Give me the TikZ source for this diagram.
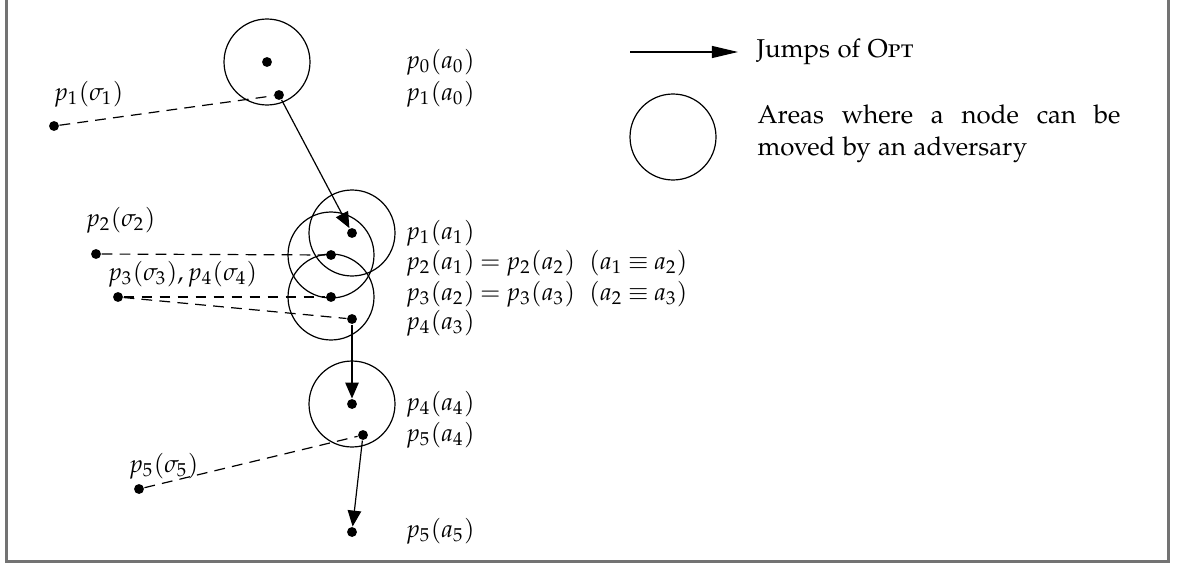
\documentclass[tikz,border=0pt]{standalone}
\usepackage[T1]{fontenc}
\usepackage[sc]{mathpazo}
\usetikzlibrary{arrows.meta}
\newcommand{\labelfont}{\fontsize{8.2}{9.8}\selectfont\thickmuskip=4mu\relax}
\begin{document}
\begin{tikzpicture}[x=0.33333pt,y=-0.33333pt,
  dot/.style={circle,fill=black,inner sep=0pt,minimum size=3.3pt},
  area/.style={draw=black,line width=0.4pt},
  jump/.style={draw=black,line width=0.4pt,-{Triangle[length=5.3pt,width=4.5pt]}},
  jumplegend/.style={draw=black,line width=0.4pt,-{Triangle[length=8.7pt,width=4pt]}},
  dashline/.style={draw=black,line width=0.4pt,dash pattern=on 3.6pt off 2.4pt},
  lbl/.style={anchor=west,inner sep=0pt,font=\labelfont},
  legtext/.style={anchor=west,inner sep=0pt,font=\fontsize{8.6}{10.7}\selectfont},
  frameline/.style={draw=black!55,line width=0.7pt}]
\useasboundingbox (0,0) rectangle (1178,567);
\draw[frameline] (6.5,0) -- (6.5,561.5) -- (1168.5,561.5) -- (1168.5,0);

% dots
\node[dot] (a0) at (267,62) {};
\node[dot] (b0) at (279,95) {};
\node[dot] (s1) at (54,126) {};
\node[dot] (a1) at (352,233) {};
\node[dot] (b1) at (331,255) {};
\node[dot] (c2) at (331,297) {};
\node[dot] (d3) at (352,319) {};
\node[dot] (s2) at (96,254) {};
\node[dot] (s3) at (118,297) {};
\node[dot] (d4) at (352,404) {};
\node[dot] (e4) at (363,435) {};
\node[dot] (s5) at (139,489) {};
\node[dot] (e5) at (352,532) {};

% areas
\draw[area] (a0) circle[radius=14.33pt];
\draw[area] (a1) circle[radius=14.33pt];
\draw[area] (b1) circle[radius=14.33pt];
\draw[area] (c2) circle[radius=14.33pt];
\draw[area] (d4) circle[radius=14.33pt];

% dashed links
\draw[dashline] (s1) -- (b0);
\draw[dashline] (s2) -- (b1);
\draw[dashline] (s3) -- (c2);
\draw[dashline] (s3) -- (d3);
\draw[dashline] (s5) -- (e4);

% jumps
\draw[jump] (b0) -- (a1);
\draw[jump] (d3) -- (d4);
\draw[jump] (e4) -- (e5);

% right labels
\node[lbl] (t0) at (405,62) {$p_0(a_0)$};
\node[lbl] (t1) at (405,94) {$p_1(a_0)$};
\node[lbl] (t2) at (405,233) {$p_1(a_1)$};
\node[lbl] (t3) at (405,263) {$p_2(a_1) = p_2(a_2)$\ \ $(a_1 \equiv a_2)$};
\node[lbl] (t4) at (405,294) {$p_3(a_2) = p_3(a_3)$\ \ $(a_2 \equiv a_3)$};
\node[lbl] (t5) at (405,323) {$p_4(a_3)$};
\node[lbl] (t6) at (405,404) {$p_4(a_4)$};
\node[lbl] (t7) at (405,435) {$p_5(a_4)$};
\node[lbl] (t8) at (405,531) {$p_5(a_5)$};

% left labels
\node[lbl] (l1) at (53,94) {$p_1(\sigma_1)$};
\node[lbl] (l2) at (85,220) {$p_2(\sigma_2)$};
\node[lbl] (l3) at (107,274) {$p_3(\sigma_3), p_4(\sigma_4)$};
\node[lbl] (l5) at (128,466) {$p_5(\sigma_5)$};

% legend
\coordinate (lgA) at (630,52);
\coordinate (lgB) at (738,52);
\draw[jumplegend] (lgA) -- (lgB);
\node[legtext] (lj) at (756,52) {Jumps of \textsc{Opt}};
\coordinate (lgC) at (673,137);
\draw[area] (lgC) circle[radius=14.33pt];
\node[legtext,align=left] (la) at (757,134) {\makebox[121pt][s]{Areas where a node can be}\\moved by an adversary};
\end{tikzpicture}
\end{document}
